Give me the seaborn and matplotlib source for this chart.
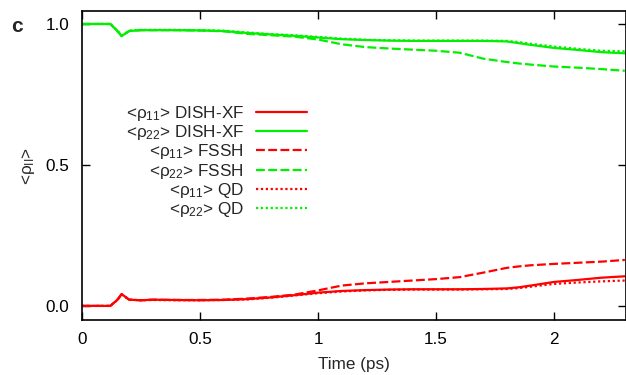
import matplotlib
matplotlib.use("Agg")
import matplotlib.pyplot as plt
import seaborn as sns
import pandas as pd

# ---- data ----
time = [0.0, 0.10, 0.12, 0.15, 0.168, 0.20, 0.25, 0.30, 0.40, 0.50, 0.60, 0.70,
        0.80, 0.90, 1.00, 1.10, 1.20, 1.30, 1.40, 1.50, 1.60, 1.70, 1.80, 1.85,
        1.90, 2.00, 2.10, 2.20, 2.30]

rho11_dish = [0.0, 0.0, 0.0, 0.022, 0.042, 0.022, 0.020, 0.022, 0.021, 0.020, 0.021, 0.024,
              0.030, 0.038, 0.047, 0.053, 0.056, 0.058, 0.059, 0.059, 0.059, 0.060, 0.062, 0.066,
              0.072, 0.085, 0.092, 0.100, 0.105]
rho22_dish = [1.0, 1.0, 1.0, 0.975, 0.957, 0.975, 0.978, 0.978, 0.978, 0.977, 0.975, 0.968,
              0.963, 0.958, 0.952, 0.946, 0.943, 0.941, 0.940, 0.940, 0.940, 0.940, 0.938, 0.932,
              0.926, 0.915, 0.908, 0.900, 0.896]
rho11_fssh = [0.0, 0.0, 0.0, 0.022, 0.042, 0.022, 0.020, 0.022, 0.021, 0.021, 0.022, 0.026,
              0.032, 0.040, 0.055, 0.072, 0.080, 0.085, 0.090, 0.095, 0.102, 0.118, 0.135, 0.140,
              0.144, 0.149, 0.153, 0.157, 0.163]
rho22_fssh = [1.0, 1.0, 1.0, 0.975, 0.957, 0.975, 0.978, 0.978, 0.978, 0.977, 0.974, 0.965,
              0.960, 0.955, 0.945, 0.928, 0.918, 0.913, 0.909, 0.905, 0.898, 0.877, 0.865, 0.860,
              0.856, 0.849, 0.845, 0.840, 0.834]
rho11_qd = [0.0, 0.0, 0.0, 0.020, 0.040, 0.022, 0.020, 0.021, 0.020, 0.020, 0.021, 0.023,
            0.029, 0.037, 0.045, 0.051, 0.055, 0.057, 0.058, 0.058, 0.058, 0.059, 0.060, 0.063,
            0.068, 0.078, 0.083, 0.087, 0.090]
rho22_qd = [1.0, 1.0, 1.0, 0.977, 0.959, 0.976, 0.979, 0.979, 0.979, 0.978, 0.976, 0.970,
            0.964, 0.960, 0.954, 0.948, 0.944, 0.942, 0.941, 0.941, 0.941, 0.941, 0.940, 0.936,
            0.930, 0.920, 0.912, 0.905, 0.903]

labels = ["<ρ$_{11}$> DISH-XF", "<ρ$_{22}$> DISH-XF",
          "<ρ$_{11}$> FSSH", "<ρ$_{22}$> FSSH",
          "<ρ$_{11}$> QD", "<ρ$_{22}$> QD"]
series = [rho11_dish, rho22_dish, rho11_fssh, rho22_fssh, rho11_qd, rho22_qd]
colors = ["#ff0000", "#00f000"] * 3
styles = ["-", "-", (0, (4, 1.5)), (0, (4, 1.5)), (0, (1, 1.2)), (0, (1, 1.2))]

xticks = [0, 0.5, 1, 1.5, 2]
xticklabels = ["0", "0.5", "1", "1.5", "2"]
yticks = [0.0, 0.5, 1.0]
yticklabels = ["0.0", "0.5", "1.0"]

FS = 12.3

sns.set_theme(style="ticks")
plt.rcParams["font.family"] = ["Liberation Sans", "DejaVu Sans"]
plt.rcParams["mathtext.fontset"] = "custom"
plt.rcParams["mathtext.rm"] = "Liberation Sans"
plt.rcParams["mathtext.it"] = "Liberation Sans"

fig = plt.figure(figsize=(6.26, 3.75), dpi=100)
ax = fig.add_axes([82 / 626, 1 - 320 / 375, 544 / 626, 309 / 375])

for lab, vals, c, ls in zip(labels, series, colors, styles):
    df = pd.DataFrame({"t": time, "v": vals})
    sns.lineplot(data=df, x="t", y="v", ax=ax, color=c, linestyle=ls,
                 linewidth=1.6, label=lab)

ax.set_xlim(0, 2.305)
ax.set_ylim(-0.05, 1.046)
ax.set_xticks(xticks)
ax.set_xticklabels(xticklabels)
ax.set_yticks(yticks)
ax.set_yticklabels(yticklabels)
ax.tick_params(direction="in", top=True, right=True, length=6, width=1,
               labelsize=FS, colors="black", pad=9)
ax.tick_params(axis="x", labeltop=False)
ax.tick_params(axis="y", labelright=False)
for sp in ax.spines.values():
    sp.set_visible(True)
    sp.set_linewidth(1.2)
    sp.set_color("black")

ax.set_xlabel("Time (ps)", fontsize=FS, labelpad=6.5)
ax.set_ylabel("<ρ$_{\\mathregular{II}}$>", fontsize=FS, labelpad=6)

leg = ax.legend(loc="center right", bbox_to_anchor=(0.414, 0.513),
                markerfirst=False, frameon=False, fontsize=FS,
                handlelength=3.0, handletextpad=0.7, labelspacing=0.02,
                borderpad=0, borderaxespad=0)

fig.text(17 / 626, 1 - 27 / 375, "c", fontsize=15, fontweight="bold",
         ha="center", va="center")

fig.savefig("out.png", dpi=100)
